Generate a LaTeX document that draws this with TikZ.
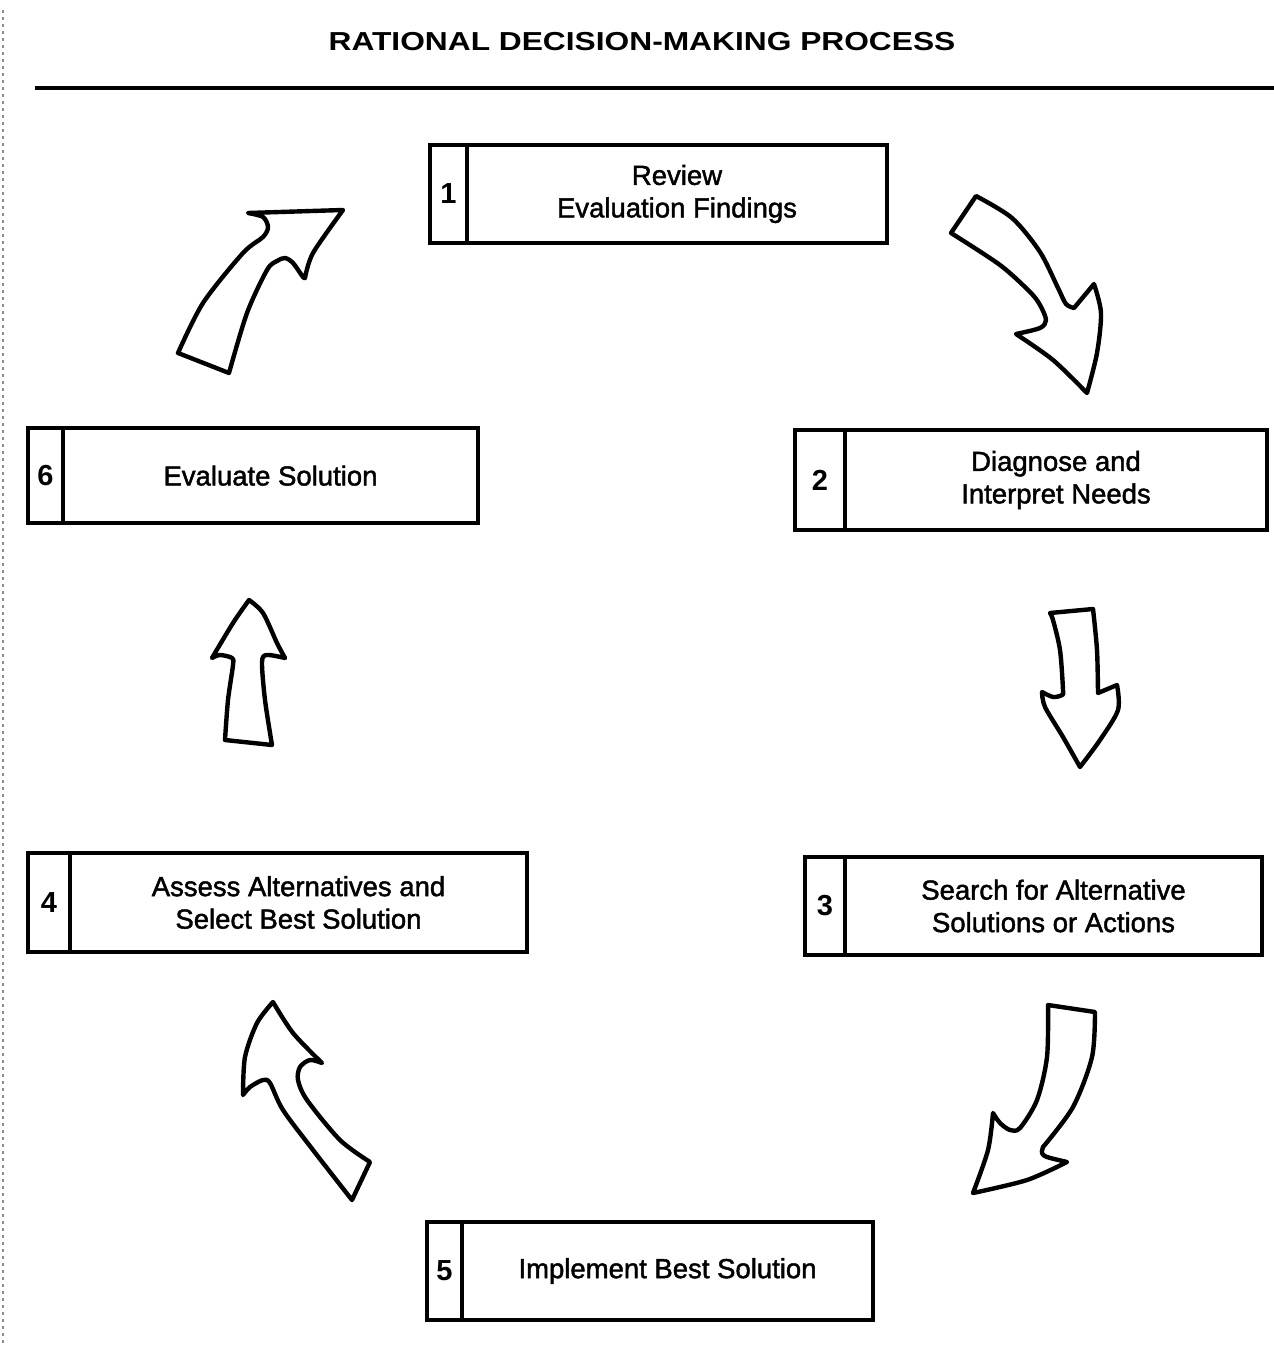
\documentclass[tikz,border=0pt]{standalone}
\usepackage{fontspec}
\setmainfont{Liberation Sans}
\newfontfamily\titlefont[FakeStretch=1.22]{Liberation Sans Bold}
\newfontfamily\bodyfont[FakeBold=1.6]{Liberation Sans}
\newfontfamily\numfont{Liberation Sans Bold}
\begin{document}
\begin{tikzpicture}[x=1pt,y=-1pt,
  cell/.style={draw, line width=3.8pt, fill=white, anchor=north west, inner sep=0pt, outer sep=0pt},
  numcell/.style={cell, font=\numfont\fontsize{29}{30}\selectfont},
  txtcell/.style={cell, align=center, font=\bodyfont\fontsize{27.5}{32.5}\selectfont},
  blk/.style={draw, fill=white, line width=4.4pt, line join=round}]
\useasboundingbox (0,0) rectangle (1274,1349);
\fill[white] (0,0) rectangle (1274,1349);
% scan edge
\draw[black!45, line width=1.5pt, dash pattern=on 3pt off 4pt] (3,10) -- (3,1345);
% title
\node[font=\titlefont\fontsize{26}{28}\selectfont] (title) at (642,42) {RATIONAL DECISION-MAKING PROCESS};
\coordinate (ruleL) at (35,88);
\coordinate (ruleR) at (1274,88);
\draw[line width=4.5pt] (ruleL) -- (ruleR);
% boxes
\node[numcell, minimum width=37pt, minimum height=98pt] (n1) at (430,145) {1};
\node[txtcell, minimum width=420pt, minimum height=98pt] (b1) at (467,145) {Review\\Evaluation Findings};
\node[numcell, minimum width=50pt, minimum height=100pt] (n2) at (795,430) {2};
\node[txtcell, minimum width=422pt, minimum height=100pt] (b2) at (845,430) {Diagnose and\\Interpret Needs};
\node[numcell, minimum width=40pt, minimum height=98pt] (n3) at (805,857) {3};
\node[txtcell, minimum width=417pt, minimum height=98pt] (b3) at (845,857) {Search for Alternative\\Solutions or Actions};
\node[numcell, minimum width=42pt, minimum height=99pt] (n4) at (28,853) {4};
\node[txtcell, minimum width=457pt, minimum height=99pt] (b4) at (70,853) {Assess Alternatives and\\Select Best Solution};
\node[numcell, minimum width=35pt, minimum height=98pt] (n5) at (427,1222) {5};
\node[txtcell, minimum width=411pt, minimum height=98pt] (b5) at (462,1222) {Implement Best Solution};
\node[numcell, minimum width=35pt, minimum height=95pt] (n6) at (28,428) {6};
\node[txtcell, minimum width=415pt, minimum height=95pt, text depth=0pt] (b6) at (63,428) {Evaluate Solution\rule[-3pt]{0pt}{1pt}};
% arrow 1 -> 2
\draw[blk] plot[smooth] coordinates {(976,196) (1012,218) (1040,252) (1058,288) (1066,304) (1074,308)}
 -- (1094,284)
 -- plot[smooth] coordinates {(1094,284) (1101,313) (1097,353) (1087,393)}
 -- plot[smooth] coordinates {(1087,393) (1053,360) (1016,334)}
 -- plot[smooth] coordinates {(1016,334) (1040,328) (1046,320) (1040,305) (1030,292) (1000,265) (951,233)}
 -- cycle;
% arrow 2 -> 3
\draw[blk] (1050,613) -- (1093,609)
 -- plot[smooth] coordinates {(1093,609) (1097,650) (1098,693)}
 -- (1117,685)
 -- plot[smooth] coordinates {(1117,685) (1118,710) (1100,740) (1080,767)}
 -- plot[smooth] coordinates {(1080,767) (1063,737) (1045,707) (1042,692)}
 -- plot[smooth] coordinates {(1042,692) (1053,697) (1062,695) (1063,690) (1060,650) (1053,620) (1050,613)}
 -- cycle;
% arrow 3 -> 5
\draw[blk] (1048,1005) -- (1095,1012)
 -- plot[smooth] coordinates {(1095,1012) (1092,1057) (1073,1107) (1043,1147)}
 -- plot[smooth] coordinates {(1043,1147) (1042,1153) (1047,1157) (1067,1162)}
 -- plot[smooth] coordinates {(1067,1162) (1027,1180) (973,1193)}
 -- plot[smooth] coordinates {(973,1193) (988,1150) (993,1113)}
 -- plot[smooth] coordinates {(993,1113) (1000,1123) (1010,1130) (1020,1128) (1037,1100) (1047,1057) (1048,1005)}
 -- cycle;
% arrow 5 -> 4
\draw[blk] (370,1162) -- (352,1200)
 -- plot[smooth] coordinates {(352,1200) (313,1150) (283,1110) (270,1083) (263,1080) (250,1087) (243,1095)}
 -- plot[smooth] coordinates {(243,1095) (245,1057) (257,1023) (273,1002)}
 -- plot[smooth] coordinates {(273,1002) (293,1033) (322,1063)}
 -- plot[smooth] coordinates {(322,1063) (310,1060) (300,1067) (298,1080) (307,1100) (340,1140) (370,1162)}
 -- cycle;
% arrow 4 -> 6
\draw[blk] (225,740) -- (272,745)
 -- plot[smooth] coordinates {(272,745) (265,700) (262,662) (267,655) (285,658)}
 -- plot[smooth] coordinates {(285,658) (277,643) (263,613) (249,600)}
 -- plot[smooth] coordinates {(249,600) (233,623) (212,658)}
 -- plot[smooth] coordinates {(212,658) (220,655) (232,658) (233,665) (228,700) (225,740)}
 -- cycle;
% arrow 6 -> 1
\draw[blk] (178,353) -- (229,373)
 -- plot[smooth] coordinates {(229,373) (247,313) (267,270) (277,261) (285,258) (293,263) (303,277) (305,278)}
 -- plot[smooth] coordinates {(305,278) (313,253) (343,210)}
 -- (248,213)
 -- plot[smooth] coordinates {(248,213) (263,217) (268,227) (263,237) (243,253) (203,303) (178,353)}
 -- cycle;
\end{tikzpicture}
\end{document}
